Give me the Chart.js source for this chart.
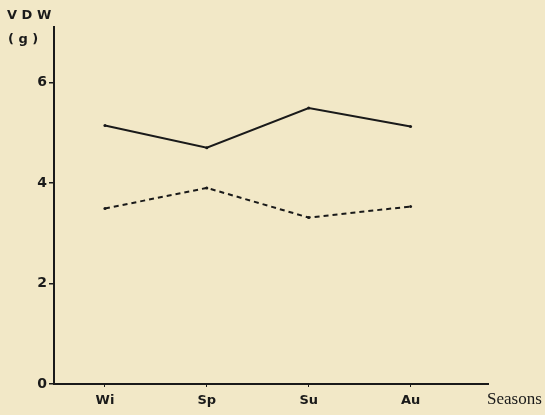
<!DOCTYPE html>
<html>
<head>
<meta charset="utf-8">
<script src="https://cdn.jsdelivr.net/npm/chart.js@4"></script>
<style>
  html, body { margin: 0; padding: 0; background: #f2e8c7; }
  #wrap { width: 545px; height: 415px; position: relative; }
</style>
</head>
<body>
<div id="wrap"><canvas id="vdwChart" width="545" height="415"></canvas></div>
<script>
// Data
const seasons = ['Wi', 'Sp', 'Su', 'Au'];
const solidValues = [5.14, 4.70, 5.49, 5.12];
const dashedValues = [3.49, 3.90, 3.31, 3.53];
const yTickValues = [0, 2, 4, 6];

const toPoints = function (vals) {
    return vals.map(function (v, i) { return { x: i + 1, y: v }; });
};

// Axis titles drawn onto the canvas
const axisText = {
    id: 'axisText',
    afterDraw: function (chart) {
        const ctx = chart.ctx;
        ctx.save();
        ctx.fillStyle = '#1a1a1a';
        ctx.font = 'bold 13px "DejaVu Sans"';
        ctx.textBaseline = 'middle';
        ctx.textAlign = 'left';
        ctx.fillText('V D W', 7, 16);
        ctx.fillText('( g )', 8, 40);
        ctx.font = '17px "Liberation Serif"';
        ctx.fillText('Seasons', 487, 400);
        ctx.restore();
    }
};

new Chart(document.getElementById('vdwChart'), {
    type: 'line',
    data: {
        datasets: [{
            data: toPoints(solidValues),
            borderColor: '#1a1a1a',
            borderWidth: 2,
            pointRadius: 1.5,
            pointBackgroundColor: '#1a1a1a',
            pointBorderWidth: 0,
            tension: 0
        }, {
            data: toPoints(dashedValues),
            borderColor: '#1a1a1a',
            borderWidth: 2,
            borderDash: [5, 4],
            pointRadius: 1.5,
            pointBackgroundColor: '#1a1a1a',
            pointBorderWidth: 0,
            tension: 0
        }]
    },
    options: {
        responsive: false,
        animation: false,
        layout: { padding: { top: 27, right: 57, left: 0, bottom: 0 } },
        plugins: { legend: { display: false }, tooltip: { enabled: false } },
        scales: {
            x: {
                type: 'linear',
                min: 0.5,
                max: 4.76,
                afterBuildTicks: function (scale) {
                    scale.ticks = seasons.map(function (s, i) { return { value: i + 1 }; });
                },
                afterFit: function (scale) { scale.height = 31; },
                ticks: {
                    color: '#1a1a1a',
                    font: { family: 'DejaVu Sans', size: 13, weight: 'bold' },
                    padding: 6,
                    maxRotation: 0,
                    callback: function (v) { return seasons[v - 1] || ''; }
                },
                grid: { drawOnChartArea: false, tickLength: 3, color: '#1a1a1a' },
                border: { display: true, color: '#1a1a1a', width: 2 }
            },
            y: {
                min: 0,
                max: 7.1,
                afterBuildTicks: function (scale) {
                    scale.ticks = yTickValues.map(function (v) { return { value: v }; });
                },
                afterFit: function (scale) { scale.width = 54; },
                ticks: {
                    color: '#1a1a1a',
                    font: { family: 'DejaVu Sans', size: 14, weight: 'bold' },
                    padding: 2
                },
                grid: { drawOnChartArea: false, tickLength: 5, color: '#1a1a1a', lineWidth: 1.5 },
                border: { display: true, color: '#1a1a1a', width: 2 }
            }
        }
    },
    plugins: [axisText]
});
</script>
</body>
</html>
